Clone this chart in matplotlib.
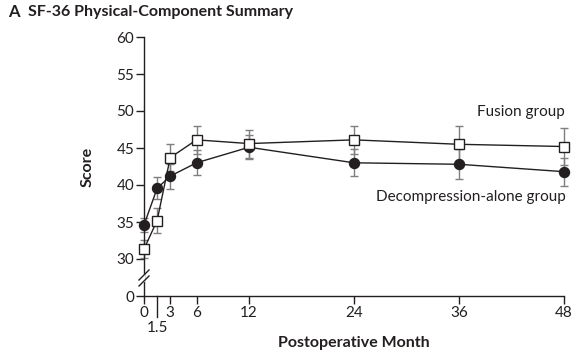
import matplotlib
matplotlib.use("Agg")
import matplotlib.pyplot as plt

months = [0, 1.5, 3, 6, 12, 24, 36, 48]
fusion = [31.35, 35.2, 43.7, 46.1, 45.6, 46.1, 45.5, 45.2]
fusion_err = [1.25, 1.7, 1.8, 1.9, 1.9, 1.9, 2.5, 2.5]
decomp = [34.6, 39.55, 41.2, 43.0, 45.1, 43.0, 42.8, 41.8]
decomp_err = [1.0, 1.5, 1.7, 1.7, 1.6, 1.8, 2.0, 1.9]

x_ticks = [0, 3, 6, 12, 24, 36, 48]
y_ticks = [25, 30, 35, 40, 45, 50, 55, 60]
y_tick_labels = ["0", "30", "35", "40", "45", "50", "55", "60"]

plt.rcParams['font.family'] = ['Lato', 'DejaVu Sans']

fig = plt.figure(figsize=(5.83, 3.55), dpi=100)
ax = fig.add_axes([144/583, 1-296/355, 420/583, 259/355])

ink = '#231f20'
errc = '#7f7f7f'

ax.errorbar(months, decomp, yerr=decomp_err, fmt='none', ecolor=errc,
            elinewidth=1.0, capsize=3.2, capthick=1.0, zorder=2, clip_on=False)
ax.errorbar(months, fusion, yerr=fusion_err, fmt='none', ecolor=errc,
            elinewidth=1.0, capsize=3.2, capthick=1.0, zorder=2, clip_on=False)
ax.plot(months, decomp, color=ink, lw=1.0, marker='o', ms=7.2,
        mfc=ink, mec=ink, zorder=3, clip_on=False)
ax.plot(months, fusion, color=ink, lw=1.0, marker='s', ms=6.6,
        mfc='white', mec=ink, mew=1.0, zorder=4, clip_on=False)

ax.set_xlim(0, 48)
ax.set_ylim(25, 60)
for s in ['top', 'right']:
    ax.spines[s].set_visible(False)
for s in ['left', 'bottom']:
    ax.spines[s].set_linewidth(1.0)
    ax.spines[s].set_color(ink)

ax.set_xticks(x_ticks)
ax.set_xticklabels([str(t) for t in x_ticks])
ax.set_yticks(y_ticks)
ax.set_yticklabels(y_tick_labels)
ax.tick_params(axis='both', direction='out', length=6, width=1.0,
               color=ink, labelcolor=ink, labelsize=11, pad=1)

# long 1.5 tick with label below
ax.plot([1.5, 1.5], [0, -21/259], transform=ax.get_xaxis_transform(),
        color=ink, lw=1.0, clip_on=False)
ax.text(1.5, -32/259, "1.5", transform=ax.get_xaxis_transform(),
        ha='center', va='center', fontsize=11, color=ink)

# axis break marks
for dy in (-3, 3):
    ax.plot([-5/420, 5/420], [(18 + dy - 5) / 259, (18 + dy + 5) / 259],
            transform=ax.transAxes, color=ink, lw=1.0, clip_on=False, zorder=6)
ax.plot([0, 0], [15/259, 21/259], transform=ax.transAxes, color='white',
        lw=1.5, clip_on=False, zorder=5)

ax.set_xlabel("Postoperative Month", fontsize=11.5, fontweight='bold',
              color=ink, labelpad=12)
ax.set_ylabel("Score", fontsize=11.5, fontweight='bold', color=ink, labelpad=16)

ax.text(48.1, 49.9, "Fusion group", ha='right', va='center',
        fontsize=11, color=ink)
ax.text(48.2, 38.4, "Decompression-alone group", ha='right', va='center',
        fontsize=11, color=ink)

fig.text(8/583, 1-12/355, "A", fontsize=12, fontweight='bold',
         color=ink, va='center', ha='left')
fig.text(28/583, 1-12/355, "SF-36 Physical-Component Summary", fontsize=11.5,
         fontweight='bold', color=ink, va='center', ha='left')

fig.savefig("out.png", dpi=100)
